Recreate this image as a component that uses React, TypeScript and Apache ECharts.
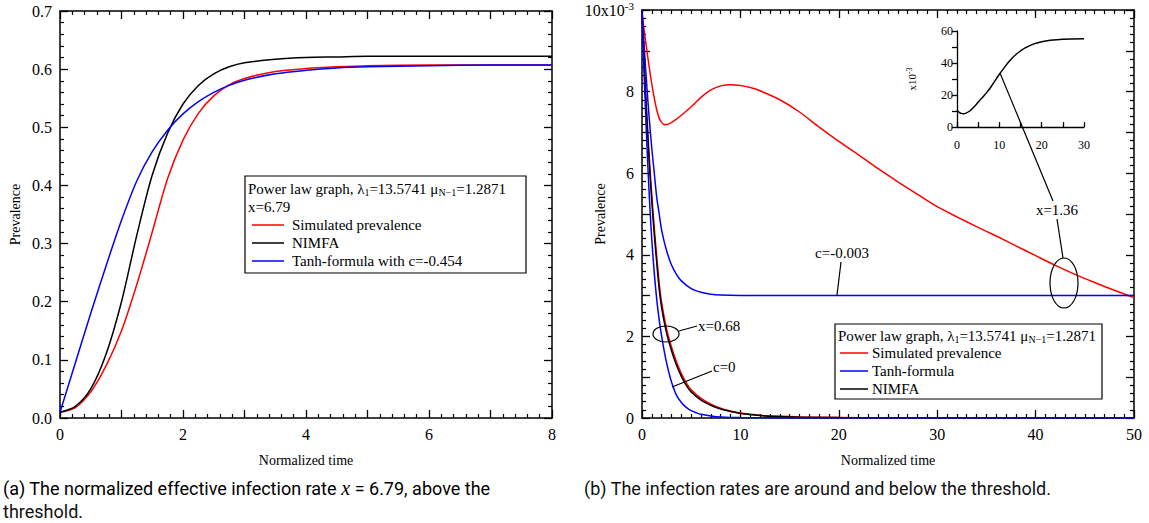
import React, { useEffect, useRef } from "react";
import * as echarts from "echarts";

// ---------- Left panel (x = 6.79) ----------
const leftTime = [0, 0.25, 0.5, 0.75, 1, 1.25, 1.5, 1.75, 2, 2.25, 2.5, 2.75, 3, 3.5, 4, 4.5, 5, 6, 7, 8];
const leftSimulated = [0.01, 0.018, 0.045, 0.09, 0.15, 0.23, 0.32, 0.412, 0.478, 0.524, 0.554, 0.573, 0.584, 0.596, 0.601, 0.604, 0.606, 0.607, 0.607, 0.607];
const leftNimfa = [0.01, 0.02, 0.05, 0.11, 0.2, 0.315, 0.418, 0.49, 0.54, 0.572, 0.592, 0.604, 0.611, 0.617, 0.62, 0.621, 0.622, 0.622, 0.622, 0.622];
const leftTanh = [0.01, 0.095, 0.18, 0.262, 0.34, 0.408, 0.458, 0.495, 0.523, 0.544, 0.56, 0.572, 0.581, 0.592, 0.598, 0.602, 0.604, 0.606, 0.607, 0.607];

// ---------- Right panel (values in 1e-3) ----------
const simTime136 = [0, 0.25, 0.5, 0.75, 1, 1.25, 1.5, 1.75, 2, 2.3, 2.75, 3.25, 4, 5, 6, 7, 8, 9, 10, 11, 12, 14, 16, 18, 20, 22, 24, 26, 28, 30, 32, 34, 36, 38, 40, 42, 44, 46, 48, 50];
const simValue136 = [9.9, 9.45, 9.0, 8.57, 8.18, 7.84, 7.55, 7.35, 7.24, 7.19, 7.21, 7.28, 7.42, 7.63, 7.86, 8.04, 8.14, 8.17, 8.15, 8.1, 8.02, 7.8, 7.5, 7.13, 6.78, 6.45, 6.11, 5.79, 5.48, 5.18, 4.93, 4.69, 4.46, 4.22, 3.98, 3.74, 3.52, 3.32, 3.13, 2.95];

const tanhTime003 = [0, 0.25, 0.5, 0.75, 1, 1.25, 1.5, 1.75, 2, 2.5, 3, 3.5, 4, 5, 6, 7, 8, 10, 15, 20, 30, 40, 50];
const tanhValue003 = [10, 9.0, 8.1, 7.3, 6.6, 6.0, 5.4, 5.0, 4.6, 4.1, 3.75, 3.52, 3.36, 3.17, 3.08, 3.035, 3.015, 3.003, 3.0, 3.0, 3.0, 3.0, 3.0];

const time068 = [0, 0.25, 0.5, 0.75, 1, 1.25, 1.5, 1.75, 2, 2.5, 3, 3.5, 4, 4.5, 5, 6, 7, 8, 9, 10, 12, 14, 16, 20, 25, 30, 40, 50];
const nimfa068 = [10, 8.5, 7.3, 6.2, 5.3, 4.5, 3.8, 3.15, 2.7, 2.08, 1.65, 1.3, 1.02, 0.8, 0.64, 0.44, 0.31, 0.22, 0.16, 0.11, 0.06, 0.035, 0.02, 0.01, 0.004, 0.002, 0.001, 0];
const simValue068 = [10, 8.6, 7.4, 6.35, 5.45, 4.65, 3.95, 3.3, 2.82, 2.18, 1.74, 1.38, 1.09, 0.86, 0.69, 0.48, 0.34, 0.24, 0.17, 0.12, 0.065, 0.04, 0.025, 0.012, 0.005, 0.003, 0.002, 0.001];

const tanhTime0 = [0, 0.25, 0.5, 0.75, 1, 1.25, 1.5, 1.75, 2, 2.25, 2.5, 2.75, 3, 3.5, 4, 4.5, 5, 5.5, 6, 7, 8, 10, 15, 20, 30, 50];
const tanhValue0 = [10, 8.2, 6.7, 5.4, 4.35, 3.55, 2.9, 2.4, 2.0, 1.65, 1.35, 1.1, 0.88, 0.56, 0.38, 0.26, 0.18, 0.13, 0.09, 0.05, 0.025, 0.01, 0.002, 0.001, 0, 0];

// ---------- Inset (NIMFA, x = 1.36, values in 1e-3) ----------
const insetTime = [0, 0.5, 1, 1.5, 2, 3, 4, 5, 6, 7, 8, 9, 10, 11, 12, 13, 14, 15, 16, 18, 20, 22, 25, 30];
const insetValue = [10.5, 9.2, 8.5, 8.3, 8.5, 10, 12.5, 15.5, 18.5, 21.5, 25, 29, 33, 36.5, 40, 43, 45.5, 47.5, 49.3, 51.8, 53.3, 54.2, 54.9, 55.2];

// ---------- Texts ----------
const xName = "Normalized time";
const yName = "Prevalence";
const captionA1 = "(a) The normalized effective infection rate ";
const captionA2 = " = 6.79, above the";
const captionA3 = "threshold.";
const captionB = "(b) The infection rates are around and below the threshold.";

const pairs = (xs: number[], ys: number[]) => xs.map((x, i) => [x, ys[i]]);

const SERIF = '"Liberation Serif", "Times New Roman", serif';
const SANS = "Roboto, 'Noto Sans', sans-serif";
const RED = "#ff0000";
const BLUE = "#0000ff";
const BLACK = "#000000";

function axis(o: any) {
  const showLabel = o.showLabel !== false;
  return {
    type: "value",
    gridIndex: o.grid,
    position: o.position,
    min: o.min,
    max: o.max,
    interval: o.interval,
    name: o.name,
    nameLocation: "middle",
    nameGap: o.nameGap,
    nameRotate: o.nameRotate,
    nameMoveOverlap: false,
    nameTextStyle: { fontFamily: SERIF, fontSize: o.nameSize || 14, color: "#000", rich: o.nameRich },
    axisLine: { show: true, onZero: false, lineStyle: { color: "#000", width: o.lineWidth || 1.5 } },
    axisTick: { show: true, inside: o.inside !== false, length: o.tickLen || 8, lineStyle: { color: "#000", width: 1.3 } },
    minorTick: o.minor
      ? { show: true, splitNumber: o.minor, length: o.minorLen || 4, lineStyle: { color: "#000", width: 1.2 } }
      : { show: false },
    splitLine: { show: false },
    minorSplitLine: { show: false },
    axisLabel: {
      show: showLabel,
      color: "#000",
      fontFamily: SERIF,
      fontSize: o.labelSize || 16,
      margin: o.margin || 8,
      formatter: o.formatter,
      rich: o.rich,
      showMinLabel: true,
      showMaxLabel: true,
      hideOverlap: false,
    },
  };
}

function line(name: string, data: number[][], color: string, xi: number, yi: number, width = 1.5) {
  return {
    type: "line",
    name,
    data,
    xAxisIndex: xi,
    yAxisIndex: yi,
    showSymbol: false,
    symbol: "none",
    smooth: 0.3,
    lineStyle: { color, width },
    itemStyle: { color },
    z: 3,
  };
}

const subRich = {
  a: { fontFamily: SERIF, fontSize: 15, color: "#000" },
  s: { fontFamily: SERIF, fontSize: 10, color: "#000", verticalAlign: "bottom", padding: [6, 0, 0, 0] },
};

function text(x: number, y: number, t: string, extra: any = {}) {
  return {
    type: "text",
    x,
    y,
    z: 20,
    style: {
      text: t,
      font: `15px ${SERIF}`,
      fill: "#000",
      textAlign: "left",
      align: "left",
      textVerticalAlign: "middle",
      verticalAlign: "middle",
      ...extra,
    },
  };
}

function seg(x1: number, y1: number, x2: number, y2: number, color = "#000", w = 1.2) {
  return { type: "line", z: 20, shape: { x1, y1, x2, y2 }, style: { stroke: color, lineWidth: w } };
}

export default function App() {
  const ref = useRef<HTMLDivElement>(null);
  useEffect(() => {
    if (!ref.current) return;
    const chart = echarts.init(ref.current, null, { renderer: "svg" });

    const leftGrid = { left: 60, top: 11, width: 492, height: 407, outerBoundsMode: "none" };
    const rightGrid = { left: 642, top: 10, width: 492, height: 408, outerBoundsMode: "none" };
    const insetGrid = { left: 957, top: 31, width: 127, height: 96, outerBoundsMode: "none" };

    const every2 = (v: number) => (Math.round(v) % 2 === 0 ? String(Math.round(v)) : "");
    const every10 = (v: number) => (Math.round(v) % 10 === 0 ? String(Math.round(v)) : "");
    const every20 = (v: number) => (Math.round(v) % 20 === 0 ? String(Math.round(v)) : "");
    const rightY = (v: number) => {
      const r = Math.round(v);
      if (r === 10) return "{a|10x10}{s|-3}";
      return r % 2 === 0 ? String(r) : "";
    };

    const option: any = {
      animation: false,
      backgroundColor: "#fff",
      grid: [leftGrid, rightGrid, insetGrid],
      xAxis: [
        axis({ grid: 0, position: "bottom", min: 0, max: 8, interval: 1, minor: 5, formatter: every2, name: xName, nameGap: 35 }),
        axis({ grid: 0, position: "top", min: 0, max: 8, interval: 1, minor: 5, showLabel: false }),
        axis({ grid: 1, position: "bottom", min: 0, max: 50, interval: 10, minor: 10, formatter: every10, name: xName, nameGap: 35 }),
        axis({ grid: 1, position: "top", min: 0, max: 50, interval: 10, minor: 10, showLabel: false }),
        axis({ grid: 2, position: "bottom", min: 0, max: 30, interval: 5, formatter: every10, tickLen: 5, labelSize: 12, margin: 12, lineWidth: 1.3 }),
      ],
      yAxis: [
        axis({ grid: 0, position: "left", min: 0, max: 0.7, interval: 0.1, minor: 5, formatter: (v: number) => v.toFixed(1), name: yName, nameGap: 38, nameRotate: 90 }),
        axis({ grid: 0, position: "right", min: 0, max: 0.7, interval: 0.1, minor: 5, showLabel: false }),
        axis({
          grid: 1, position: "left", min: 0, max: 10, interval: 1, minor: 5, formatter: rightY, name: yName, nameGap: 35, nameRotate: 90,
          rich: {
            a: { fontFamily: SERIF, fontSize: 16, color: "#000" },
            s: { fontFamily: SERIF, fontSize: 11, color: "#000", verticalAlign: "top", padding: [0, 0, 8, 0] },
          },
        }),
        axis({ grid: 1, position: "right", min: 0, max: 10, interval: 1, minor: 5, showLabel: false }),
        axis({
          grid: 2, position: "left", min: 0, max: 60, interval: 10, formatter: every20, tickLen: 5, inside: false, labelSize: 12, margin: 4, lineWidth: 1.3,
          name: "{a|x10}{s|-3}", nameGap: 38, nameRotate: 90, nameSize: 11,
          nameRich: {
            a: { fontFamily: SERIF, fontSize: 11, color: "#000" },
            s: { fontFamily: SERIF, fontSize: 8, color: "#000", verticalAlign: "top", padding: [0, 0, 6, 0] },
          },
        }),
      ],
      series: [
        line("Simulated prevalence", pairs(leftTime, leftSimulated), RED, 0, 0),
        line("NIMFA", pairs(leftTime, leftNimfa), BLACK, 0, 0),
        line("Tanh-formula with c=-0.454", pairs(leftTime, leftTanh), BLUE, 0, 0),

        line("Simulated prevalence (x=1.36)", pairs(simTime136, simValue136), RED, 2, 2),
        line("Tanh-formula (c=-0.003)", pairs(tanhTime003, tanhValue003), BLUE, 2, 2),
        line("Simulated prevalence (x=0.68)", pairs(time068, simValue068), RED, 2, 2),
        line("NIMFA (x=0.68)", pairs(time068, nimfa068), BLACK, 2, 2),
        line("Tanh-formula (c=0)", pairs(tanhTime0, tanhValue0), BLUE, 2, 2),

        line("NIMFA (x=1.36)", pairs(insetTime, insetValue), BLACK, 4, 4, 1.5),
      ],
      graphic: [
        // Left legend
        { type: "rect", z: 19, shape: { x: 245, y: 176, width: 281, height: 97 }, style: { fill: "#fff", stroke: "#000", lineWidth: 1.2 } },
        text(248, 189, "{a|Power law graph, λ}{s|1}{a|=13.5741 μ}{s|N−1}{a|=1.2871}", { rich: subRich }),
        text(248, 207, "x=6.79"),
        seg(252, 225, 284, 225, RED, 1.5),
        text(292, 225, "Simulated prevalence"),
        seg(252, 243, 284, 243, BLACK, 1.5),
        text(292, 243, "NIMFA"),
        seg(252, 261, 284, 261, BLUE, 1.5),
        text(292, 261, "Tanh-formula with c=-0.454"),

        // Right legend
        { type: "rect", z: 19, shape: { x: 835, y: 324, width: 267, height: 75 }, style: { fill: "#fff", stroke: "#000", lineWidth: 1.2 } },
        text(838, 336, "{a|Power law graph, λ}{s|1}{a|=13.5741 μ}{s|N−1}{a|=1.2871}", { rich: subRich }),
        seg(840, 353, 868, 353, RED, 1.5),
        text(872, 353, "Simulated prevalence"),
        seg(840, 371, 868, 371, BLUE, 1.5),
        text(872, 371, "Tanh-formula"),
        seg(840, 389, 868, 389, BLACK, 1.5),
        text(872, 389, "NIMFA"),

        // Annotations on right panel
        { type: "ellipse", z: 20, shape: { cx: 666, cy: 334, rx: 13, ry: 8 }, style: { fill: "none", stroke: "#000", lineWidth: 1.2 } },
        seg(679, 331, 697, 326),
        text(698, 326, "x=0.68"),
        seg(672, 387, 712, 371),
        text(713, 367, "c=0"),
        seg(837, 295, 841, 262),
        text(842, 253, "c=-0.003", { textAlign: "center", align: "center" }),
        seg(1000, 73, 1053, 201),
        text(1057, 210, "x=1.36", { textAlign: "center", align: "center" }),
        seg(1057, 219, 1063, 258),
        { type: "ellipse", z: 20, shape: { cx: 1064, cy: 283, rx: 14, ry: 25 }, style: { fill: "none", stroke: "#000", lineWidth: 1.2 } },

        // Captions
        text(3, 488, "{n|" + captionA1 + "}{i|x}{n|" + captionA2 + "}", {
          rich: {
            n: { fontFamily: SANS, fontSize: 18, color: "#111" },
            i: { fontFamily: SERIF, fontStyle: "italic", fontSize: 20, color: "#111" },
          },
        }),
        text(3, 511, captionA3, { font: `18px ${SANS}`, fill: "#111" }),
        text(584, 488, captionB, { font: `18px ${SANS}`, fill: "#111" }),
      ],
    };

    chart.setOption(option);
    return () => chart.dispose();
  }, []);

  return <div ref={ref} style={{ position: "absolute", left: 0, top: 0, width: 1149, height: 523, background: "#fff" }} />;
}
